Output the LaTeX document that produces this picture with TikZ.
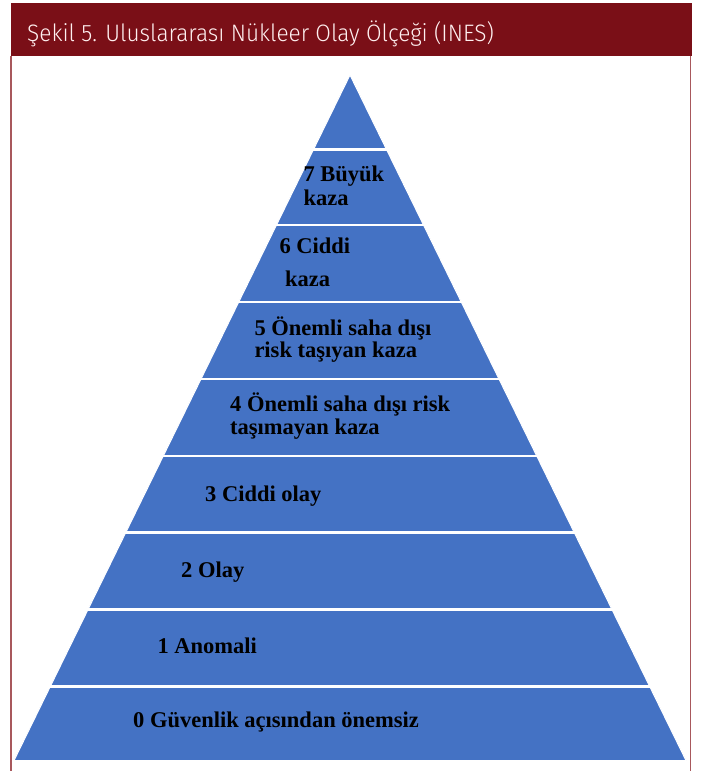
\documentclass[tikz,border=0pt]{standalone}
\usepackage{fontspec}
\setmainfont{Liberation Serif}
\newfontfamily\headfont{Fira Sans Light}[FakeStretch=0.95]
\definecolor{hdr}{HTML}{7A0F17}
\definecolor{pyr}{HTML}{4472C4}
\definecolor{brd}{HTML}{A8585C}
\begin{document}
\begin{tikzpicture}[x=1pt,y=-1pt,
  lbl/.style={anchor=base west, inner sep=0pt, font=\fontsize{22.5}{24}\selectfont\bfseries, text=black},
  sep/.style={white, line width=2.5pt}]
\useasboundingbox (0,0) rectangle (714,771);
\fill[white] (0,0) rectangle (714,771);
\fill[hdr] (11,3.3) rectangle (691.5,55.5);
\draw[brd, line width=1.3pt] (11,55.5) -- (11,771) (690.8,55.5) -- (690.8,771);
\node[anchor=base west, inner sep=0pt, text=white!94!red, font=\headfont\fontsize{23.8}{25}\selectfont] (title) at (27,41) {Şekil 5. Uluslararası Nükleer Olay Ölçeği (INES)};
\filldraw[fill=pyr, draw=white, line width=1pt] (350,75) -- (686,760.5) -- (14,760.5) -- cycle;
\foreach \y/\h in {149.3/36.42, 225/73.52, 302/111.26, 379/149.0, 456/186.75, 532.5/224.24, 609.3/261.89, 686.3/299.63}
  \draw[sep] (350-\h-2,\y) -- (350+\h+2,\y);
\node[lbl] (l7a) at (303.3,181.7) {7 Büyük};
\node[lbl] (l7b) at (303.3,205) {kaza};
\node[lbl] (l6a) at (279.3,253.3) {6 Ciddi};
\node[lbl] (l6b) at (285,286) {kaza};
\node[lbl] (l5a) at (254.3,335) {5 Önemli saha dışı};
\node[lbl] (l5b) at (254.3,357) {risk taşıyan kaza};
\node[lbl] (l4a) at (230,411.7) {4 Önemli saha dışı risk};
\node[lbl] (l4b) at (230,434) {taşımayan kaza};
\node[lbl] (l3) at (205,501.7) {3 Ciddi olay};
\node[lbl] (l2) at (181,577.3) {2 Olay};
\node[lbl] (l1) at (157.3,653.3) {1 Anomali};
\node[lbl] (l0) at (133,727.5) {0 Güvenlik açısından önemsiz};
\end{tikzpicture}
\end{document}
